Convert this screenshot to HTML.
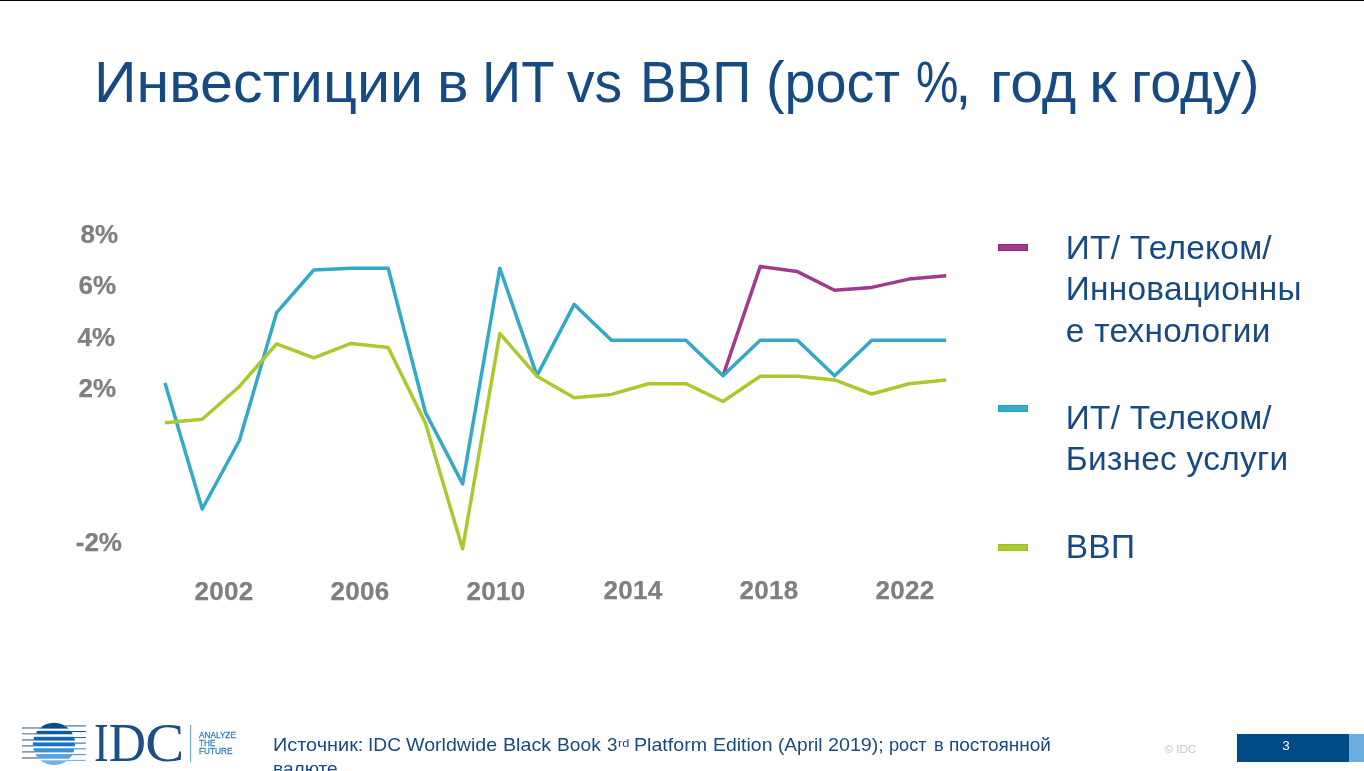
<!DOCTYPE html>
<html lang="ru">
<head>
<meta charset="utf-8">
<title>Инвестиции в ИТ vs ВВП</title>
<style>
  html, body { margin: 0; padding: 0; background: #ffffff; }
  body { width: 1364px; height: 771px; position: relative; overflow: hidden;
         font-family: "Liberation Sans", sans-serif; }
  #page { position: absolute; left: 0; top: 0; width: 1364px; height: 771px; overflow: hidden; will-change: transform; }
  .abs { position: absolute; white-space: nowrap; }
  #topline { left: 0; top: 0; width: 1364px; height: 1px; background: #000000; }
  .tw { top: 51px; font-size: 56.6px; line-height: 64px; color: #174a82; transform-origin: 0 0; }
  .ylab, .xlab { font-weight: bold; color: #7f7f7f; font-size: 26px; line-height: 30px; -webkit-text-stroke: 0.25px #7f7f7f; }
  .ylab { text-align: right; width: 80px; }
  .xlab { text-align: center; width: 80px; letter-spacing: 0.3px; }
  .leg { color: #174a82; font-size: 33.4px; line-height: 41.3px; letter-spacing: 0.28px; white-space: nowrap; }
  .sw { position: absolute; left: 998px; width: 30px; height: 7px; box-sizing: border-box; }
  .sw1 { top: 734px; font-size: 18.4px; line-height: 22px; color: #174a82; transform-origin: 0 0; }
  #copy { left: 1164.6px; top: 742px; font-size: 11.5px; line-height: 14px; color: #c6c6c6; }
  #pgbar { left: 1237px; top: 734px; width: 112px; height: 28px; background: #004b85; }
  #pgbar2 { left: 1349px; top: 734px; width: 15px; height: 28px; background: #6daee0; }
  #pgnum { left: 1236px; top: 738px; width: 100px; text-align: center; color: #ffffff; font-size: 13.5px; line-height: 16px; }
  .tag { color: #2f7fc1; font-size: 9.3px; line-height: 8.3px; font-weight: normal; -webkit-text-stroke: 0.3px #2f7fc1; transform: scaleX(0.885); transform-origin: 0 0; }
</style>
</head>
<body>
<div id="page">
<div id="topline" class="abs"></div>
<div id="title">
  <span class="abs tw" style="left:94.0px; transform:scaleX(1.047);">Инвестиции</span>
  <span class="abs tw" style="left:436.9px; transform:scaleX(1.050);">в</span>
  <span class="abs tw" style="left:482.1px; transform:scaleX(0.963);">ИТ</span>
  <span class="abs tw" style="left:566.6px; transform:scaleX(0.976);">vs</span>
  <span class="abs tw" style="left:639.7px; transform:scaleX(0.958);">ВВП</span>
  <span class="abs tw" style="left:766.0px; transform:scaleX(0.985);">(рост</span>
  <span class="abs tw" style="left:916.4px; transform:scaleX(0.843);">%</span>
  <span class="abs tw" style="left:955.6px; transform:scaleX(1.000);">,</span>
  <span class="abs tw" style="left:990.2px; transform:scaleX(1.045);">год</span>
  <span class="abs tw" style="left:1089.0px; transform:scaleX(1.119);">к</span>
  <span class="abs tw" style="left:1130.5px; transform:scaleX(0.989);">году)</span>
</div>

<!-- Y axis labels -->
<div class="abs ylab" style="left:38px; top:219px;">8%</div>
<div class="abs ylab" style="left:36px; top:270px;">6%</div>
<div class="abs ylab" style="left:35px; top:322px;">4%</div>
<div class="abs ylab" style="left:36px; top:373px;">2%</div>
<div class="abs ylab" style="left:42px; top:527px;">-2%</div>

<!-- X axis labels -->
<div class="abs xlab" style="left:184px; top:576px;">2002</div>
<div class="abs xlab" style="left:320px; top:576px;">2006</div>
<div class="abs xlab" style="left:456px; top:576px;">2010</div>
<div class="abs xlab" style="left:593px; top:575px;">2014</div>
<div class="abs xlab" style="left:729px; top:575px;">2018</div>
<div class="abs xlab" style="left:865px; top:575px;">2022</div>

<!-- Chart lines -->
<svg class="abs" style="left:0; top:0;" width="1364" height="771" viewBox="0 0 1364 771">
  <g fill="none" stroke-width="3.5" stroke-linejoin="round" stroke-linecap="butt">
    <polyline stroke="#9e3b8f" points="723.0,375.8 760.2,266.6 797.4,271.6 834.6,290.3 871.8,287.4 909.0,279.1 946.2,275.8"/>
    <polyline stroke="#32aac7" points="165.0,382.9 202.2,509.0 239.4,440.5 276.6,312.7 313.8,270.0 351.0,268.3 388.2,268.3 425.4,412.3 462.6,483.9 499.8,268.3 537.0,375.6 574.2,304.4 611.4,340.2 648.6,340.2 685.8,340.2 723.0,375.8 760.2,340.2 797.4,340.2 834.6,375.8 871.8,340.2 909.0,340.2 946.2,340.2"/>
    <polyline stroke="#a9c92f" points="165.0,422.7 202.2,419.3 239.4,386.5 276.6,343.8 313.8,357.9 351.0,343.4 388.2,347.5 425.4,423.1 462.6,548.8 499.8,333.5 537.0,376.2 574.2,397.8 611.4,394.4 648.6,383.7 685.8,383.7 723.0,401.5 760.2,376.2 797.4,376.2 834.6,379.9 871.8,394.0 909.0,383.7 946.2,379.9"/>
  </g>
</svg>

<!-- Legend -->
<div class="sw" style="top:244px; background:#9e3b8f; border:1px solid #91267f;"></div>
<div class="sw" style="top:405px; background:#35abc7; border:1px solid #22a2c0;"></div>
<div class="sw" style="top:544px; background:#abca30; border:1px solid #9dc21a;"></div>
<div class="abs leg" style="left:1065.8px; top:227px;">ИТ/ Телеком/<br>Инновационны<br>е технологии</div>
<div class="abs leg" style="left:1065.8px; top:397px;">ИТ/ Телеком/<br>Бизнес услуги</div>
<div class="abs leg" style="left:1065.8px; top:526px;">ВВП</div>

<!-- Footer: logo -->
<svg class="abs" style="left:0; top:700px;" width="270" height="71" viewBox="0 700 270 71">
  <defs>
    <clipPath id="globe"><circle cx="54" cy="743.9" r="21.2"/></clipPath>
  </defs>
  <g clip-path="url(#globe)">
    <rect x="30" y="722" width="50" height="6.6" fill="#0a4d87"/>
    <rect x="30" y="730.8" width="50" height="3.5" fill="#0c5a9c"/>
    <rect x="30" y="736.8" width="50" height="3.8" fill="#1267ad"/>
    <rect x="30" y="742.4" width="50" height="3.9" fill="#1b74bd"/>
    <rect x="30" y="748.2" width="50" height="4.2" fill="#3d90d0"/>
    <rect x="30" y="754.1" width="50" height="4.6" fill="#5aa2da"/>
    <rect x="30" y="760.3" width="50" height="6" fill="#73b3e3"/>
  </g>
  <g fill="#8a9bb0">
    <rect x="22" y="727.1" width="20" height="1.7"/>
    <rect x="22" y="733" width="15.5" height="1.5"/>
    <rect x="22" y="739" width="12.6" height="1.8" fill="#7f9fc2"/>
    <rect x="22" y="745" width="11.8" height="1.7"/>
    <rect x="22" y="751" width="12.8" height="1.7"/>
    <rect x="22" y="757.1" width="16.5" height="1.8"/>
  </g>
  <g>
    <rect x="64.5" y="725.1" width="21.3" height="1.6" fill="#7f93ab"/>
    <rect x="70" y="731" width="15.8" height="1.1" fill="#0d5a9b"/>
    <rect x="73" y="737" width="12.8" height="1.1" fill="#2b6fb0"/>
    <rect x="74" y="742.4" width="11.8" height="1.6" fill="#8499b0"/>
    <rect x="73" y="748.1" width="12.8" height="1.4" fill="#6fa8d8"/>
    <rect x="71" y="754.1" width="14.8" height="1.1" fill="#4f93d0"/>
    <rect x="66" y="759.9" width="19.8" height="1.1" fill="#7db5e3"/>
  </g>
  <g font-family="Liberation Serif, serif" font-size="54.7" fill="#1c4f88">
    <text x="93.9" y="760.8" textLength="14.6" lengthAdjust="spacingAndGlyphs">I</text>
    <text x="108.8" y="760.8" textLength="37.2" lengthAdjust="spacingAndGlyphs">D</text>
    <text x="145.3" y="760.8" textLength="39" lengthAdjust="spacingAndGlyphs">C</text>
  </g>
  <rect x="190.1" y="725" width="1" height="36.7" fill="#5b9bd5"/>
</svg>
<div class="abs tag" style="left:198.8px; top:730.9px;">ANALYZE<br>THE<br>FUTURE</div>

<!-- Footer: source -->
<div id="src">
  <span class="abs sw1" style="left:272.7px; transform:scaleX(1.081);">Источник:</span>
  <span class="abs sw1" style="left:367.8px; transform:scaleX(1.043);">IDC</span>
  <span class="abs sw1" style="left:406.3px; transform:scaleX(1.066);">Worldwide</span>
  <span class="abs sw1" style="left:502.6px; transform:scaleX(1.068);">Black</span>
  <span class="abs sw1" style="left:556.7px; transform:scaleX(1.044);">Book</span>
  <span class="abs sw1" style="left:606.5px; transform:scaleX(1.022);">3</span>
  <span class="abs sw1" style="left:633.5px; transform:scaleX(1.067);">Platform</span>
  <span class="abs sw1" style="left:712.7px; transform:scaleX(1.057);">Edition</span>
  <span class="abs sw1" style="left:777.5px; transform:scaleX(1.039);">(April</span>
  <span class="abs sw1" style="left:827.5px; transform:scaleX(1.070);">2019);</span>
  <span class="abs sw1" style="left:889.0px; transform:scaleX(0.989);">рост</span>
  <span class="abs sw1" style="left:934.3px; transform:scaleX(0.988);">в</span>
  <span class="abs sw1" style="left:949.2px; transform:scaleX(1.034);">постоянной</span>
  <span class="abs sw1" style="left:617.9px; transform:scaleX(1.110); top:732px; font-size:11.5px;">rd</span>
  <span class="abs sw1" style="left:272.8px; transform:scaleX(1.038); top:758px;">валюте</span>
</div>
<div id="copy" class="abs">© IDC</div>
<div id="pgbar" class="abs"></div>
<div id="pgbar2" class="abs"></div>
<div id="pgnum" class="abs">3</div>
</div>
</body>
</html>
